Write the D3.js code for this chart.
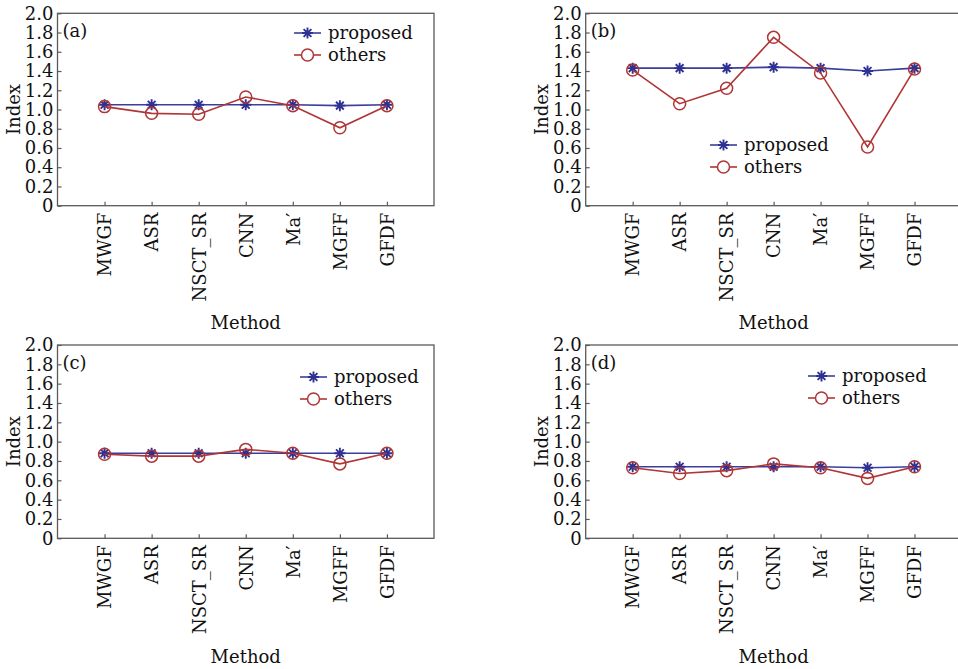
<!DOCTYPE html>
<html>
<head>
<meta charset="utf-8">
<script src="https://cdn.jsdelivr.net/npm/d3@7"></script>
<style>
  html, body { margin: 0; padding: 0; background: #fff; }
  svg { display: block; }
  text { font-family: "DejaVu Serif", serif; fill: #111; }
</style>
</head>
<body>
<svg id="chart" width="958" height="669"></svg>
<script>
// Fusion methods compared on the x axis
const categories = ["MWGF", "ASR", "NSCT_SR", "CNN", "Ma\u2032", "MGFF", "GFDF"];

// Index values per panel
const proposedA = [1.05, 1.05, 1.05, 1.05, 1.05, 1.04, 1.05];
const othersA   = [1.03, 0.96, 0.95, 1.13, 1.04, 0.81, 1.04];
const proposedB = [1.43, 1.43, 1.43, 1.44, 1.43, 1.40, 1.43];
const othersB   = [1.41, 1.06, 1.22, 1.75, 1.38, 0.61, 1.42];
const proposedC = [0.88, 0.88, 0.88, 0.88, 0.88, 0.88, 0.88];
const othersC   = [0.87, 0.85, 0.85, 0.92, 0.88, 0.77, 0.88];
const proposedD = [0.74, 0.74, 0.74, 0.74, 0.74, 0.73, 0.74];
const othersD   = [0.73, 0.67, 0.70, 0.77, 0.73, 0.62, 0.74];

const yTicks = [0, 0.2, 0.4, 0.6, 0.8, 1.0, 1.2, 1.4, 1.6, 1.8, 2.0];
const panelTags = ["(a)", "(b)", "(c)", "(d)"];
const seriesNames = ["proposed", "others"];

const BLUE = "#2e3192";
const BLUE_LINE = "#3a3f9c";
const RED = "#b03535";
const FRAME = "#5a5a5a";

const svg = d3.select("#chart");

const panels = [
  { tag: panelTags[0], proposed: proposedA, others: othersA,
    box: [57.5, 13.3, 434, 205.7], legend: [294, 33], labelY: 329 },
  { tag: panelTags[1], proposed: proposedB, others: othersB,
    box: [585.7, 13.3, 961.5, 205.7], legend: [710, 145], labelY: 329 },
  { tag: panelTags[2], proposed: proposedC, others: othersC,
    box: [57.5, 345, 434, 538.3], legend: [300, 377], labelY: 663 },
  { tag: panelTags[3], proposed: proposedD, others: othersD,
    box: [585.7, 345, 961.5, 538.3], legend: [808, 376], labelY: 663 }
];

// eight-armed asterisk marker
function starPath(cx, cy, r) {
  let d = "";
  for (let k = 0; k < 4; k++) {
    const a = k * Math.PI / 4;
    const dx = r * Math.cos(a), dy = r * Math.sin(a);
    d += `M${cx - dx},${cy - dy}L${cx + dx},${cy + dy}`;
  }
  return d;
}

panels.forEach(p => {
  const [x0, y0, x1, y1] = p.box;
  const x = d3.scaleLinear().domain([0, categories.length + 1]).range([x0, x1]);
  const y = d3.scaleLinear().domain([0, 2]).range([y1, y0]);
  const g = svg.append("g");

  // frame
  g.append("rect")
    .attr("x", x0).attr("y", y0)
    .attr("width", x1 - x0).attr("height", y1 - y0)
    .attr("fill", "none").attr("stroke", FRAME).attr("stroke-width", 1.3);

  // y axis with inward ticks
  const yAxis = d3.axisLeft(y)
    .tickValues(yTicks)
    .tickSizeInner(-4).tickSizeOuter(0).tickPadding(4)
    .tickFormat(v => v === 0 ? "0" : d3.format(".1f")(v));
  const ya = g.append("g").attr("transform", `translate(${x0},0)`).call(yAxis);
  ya.select(".domain").remove();
  ya.selectAll("line").attr("stroke", FRAME).attr("stroke-width", 1.2);
  ya.selectAll("text").attr("font-size", 18).attr("font-family", "DejaVu Serif").attr("fill", "#111");

  // x axis with inward ticks and vertical labels
  const xAxis = d3.axisBottom(x)
    .tickValues(d3.range(1, categories.length + 1))
    .tickSizeInner(-4).tickSizeOuter(0)
    .tickFormat(i => categories[i - 1]);
  const xa = g.append("g").attr("transform", `translate(0,${y1})`).call(xAxis);
  xa.select(".domain").remove();
  xa.selectAll("line").attr("stroke", FRAME).attr("stroke-width", 1.2);
  xa.selectAll("text")
    .attr("font-size", 18).attr("font-family", "DejaVu Serif").attr("fill", "#111")
    .attr("text-anchor", "end")
    .attr("dy", "0.35em")
    .attr("transform", "rotate(-90)")
    .attr("x", -7).attr("y", 0);

  // axis titles
  g.append("text")
    .attr("transform", `translate(${x0 - 38},${(y0 + y1) / 2}) rotate(-90)`)
    .attr("text-anchor", "middle").attr("font-size", 18)
    .text("Index");
  g.append("text")
    .attr("x", (x0 + x1) / 2)
    .attr("y", p.labelY)
    .attr("text-anchor", "middle").attr("font-size", 18)
    .text("Method");

  // panel tag
  g.append("text")
    .attr("x", x0 + 5).attr("y", y0 + 24)
    .attr("font-size", 18).text(p.tag);

  const line = d3.line().x((d, i) => x(i + 1)).y(d => y(d));

  // proposed series
  g.append("path").datum(p.proposed)
    .attr("d", line).attr("fill", "none")
    .attr("stroke", BLUE_LINE).attr("stroke-width", 1.6);
  g.selectAll(".star").data(p.proposed).enter().append("path")
    .attr("d", (d, i) => starPath(x(i + 1), y(d), 5.5))
    .attr("stroke", BLUE).attr("stroke-width", 1.9).attr("fill", "none");

  // others series
  g.append("path").datum(p.others)
    .attr("d", line).attr("fill", "none")
    .attr("stroke", RED).attr("stroke-width", 1.6);
  g.selectAll(".ring").data(p.others).enter().append("circle")
    .attr("cx", (d, i) => x(i + 1)).attr("cy", d => y(d)).attr("r", 6)
    .attr("fill", "none").attr("stroke", RED).attr("stroke-width", 1.5);

  // legend
  const [lx, ly] = p.legend;
  const lg = g.append("g");
  lg.append("line").attr("x1", lx).attr("x2", lx + 27).attr("y1", ly).attr("y2", ly)
    .attr("stroke", BLUE_LINE).attr("stroke-width", 1.6);
  lg.append("path").attr("d", starPath(lx + 13.5, ly, 5.5))
    .attr("stroke", BLUE).attr("stroke-width", 1.9);
  lg.append("text").attr("x", lx + 34).attr("y", ly).attr("dy", "0.32em")
    .attr("font-size", 18).text(seriesNames[0]);
  lg.append("line").attr("x1", lx).attr("x2", lx + 27).attr("y1", ly + 22).attr("y2", ly + 22)
    .attr("stroke", RED).attr("stroke-width", 1.6);
  lg.append("circle").attr("cx", lx + 13.5).attr("cy", ly + 22).attr("r", 6)
    .attr("fill", "#fff").attr("stroke", RED).attr("stroke-width", 1.5);
  lg.append("text").attr("x", lx + 34).attr("y", ly + 22).attr("dy", "0.32em")
    .attr("font-size", 18).text(seriesNames[1]);
});
</script>
</body>
</html>
